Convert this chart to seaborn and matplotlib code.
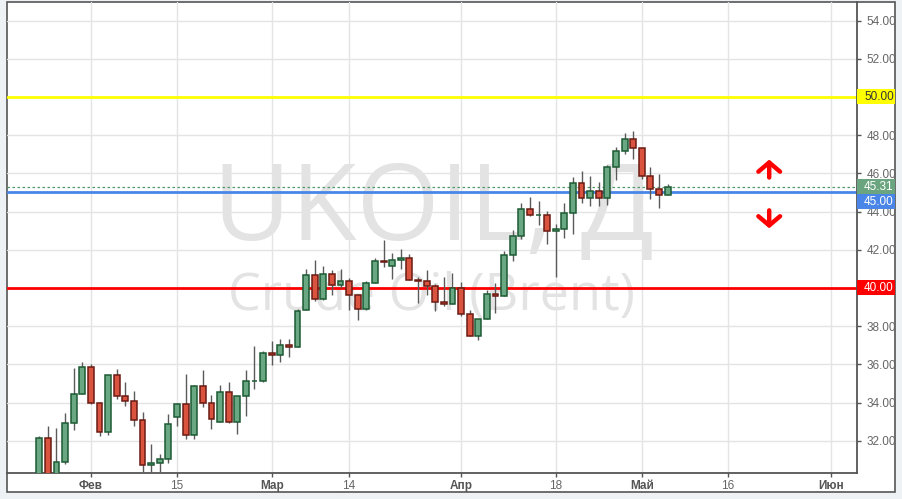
import numpy as np
import pandas as pd
import matplotlib
matplotlib.use("Agg")
import matplotlib.pyplot as plt
import matplotlib.transforms as mtransforms
from matplotlib.patches import Rectangle
import seaborn as sns

# ---------------- data ----------------
open_ = [29.90, 32.13, 30.10, 30.87, 32.92, 34.43, 35.85, 33.96, 32.45, 35.43,
         34.33, 34.07, 33.07, 30.72, 30.82, 31.03, 33.26, 33.91, 32.29, 34.85,
         33.96, 32.97, 34.54, 32.97, 34.33, 35.12, 35.12, 36.58, 36.48, 37.00,
         36.90, 38.83, 40.66, 39.41, 40.72, 40.14, 40.35, 39.62, 38.88, 40.25,
         41.40, 41.14, 41.45, 41.55, 40.40, 40.35, 40.09, 39.25, 39.15, 40.02,
         38.62, 37.47, 38.36, 39.67, 39.57, 41.71, 42.71, 44.12, 43.81, 43.81,
         42.97, 43.07, 43.91, 45.48, 44.70, 45.06, 44.70, 46.32, 47.16, 47.79,
         47.31, 45.85, 45.17, 44.85]
high = [32.25, 32.78, 32.67, 33.44, 35.80, 36.13, 36.00, 34.05, 35.43, 35.74,
        35.06, 34.61, 33.49, 31.82, 31.31, 33.39, 33.98, 35.50, 34.92, 35.71,
        34.38, 34.92, 35.08, 34.33, 35.71, 36.95, 36.69, 37.21, 37.31, 37.31,
        38.88, 40.98, 41.45, 41.14, 40.93, 40.98, 40.51, 39.67, 40.35, 41.55,
        42.50, 41.82, 42.03, 41.76, 40.56, 40.93, 40.19, 40.56, 40.77, 40.33,
        38.83, 38.36, 39.88, 40.25, 41.92, 43.02, 44.43, 44.75, 44.54, 44.02,
        43.34, 44.43, 45.80, 46.11, 45.85, 45.53, 46.42, 47.37, 48.10, 48.20,
        47.31, 46.32, 45.95, 45.43]
low = [29.60, 29.80, 29.90, 30.80, 32.55, 34.43, 33.91, 32.24, 32.29, 34.17,
       33.81, 32.76, 30.38, 30.38, 30.38, 30.85, 32.79, 32.08, 32.08, 33.79,
       32.63, 32.97, 32.92, 32.34, 33.28, 34.70, 35.06, 35.95, 36.11, 36.37,
       36.90, 38.83, 39.30, 39.36, 39.62, 39.98, 38.83, 38.31, 38.83, 40.25,
       41.08, 40.46, 40.98, 40.40, 39.20, 39.62, 38.78, 39.04, 39.15, 38.52,
       37.47, 37.26, 38.36, 38.68, 39.57, 41.40, 42.55, 43.75, 43.28, 42.29,
       40.56, 42.60, 42.81, 44.43, 44.28, 44.28, 44.33, 45.64, 47.00, 46.74,
       45.69, 44.64, 44.17, 44.85]
close = [32.13, 30.20, 30.87, 32.92, 34.43, 35.85, 33.96, 32.45, 35.43, 34.33,
         34.07, 33.07, 30.72, 30.82, 31.03, 32.86, 33.93, 32.29, 34.85, 33.96,
         33.12, 34.54, 32.97, 34.33, 35.12, 35.12, 36.58, 36.48, 37.00, 36.90,
         38.78, 40.66, 39.41, 40.72, 40.14, 40.35, 39.62, 38.88, 40.25, 41.40,
         41.35, 41.45, 41.55, 40.40, 40.35, 40.09, 39.25, 39.15, 40.02, 38.62,
         37.47, 38.36, 39.67, 39.57, 41.71, 42.71, 44.12, 43.81, 43.81, 42.97,
         43.07, 43.91, 45.48, 44.70, 45.06, 44.70, 46.32, 47.16, 47.79, 47.31,
         45.85, 45.17, 44.85, 45.31]

start_date = "2016-01-22"
end_date = "2016-06-10"
holidays = ["2016-03-25"]
tick_dates = ["2016-02-01", "2016-02-15", "2016-03-01", "2016-03-14", "2016-04-01",
              "2016-04-18", "2016-05-02", "2016-05-16", "2016-06-01"]
tick_labels = ["Фев", "15", "Мар", "14", "Апр", "18", "Май", "16", "Июн"]
month_ticks = ["Фев", "Мар", "Апр", "Май", "Июн"]
price_ticks = [32, 34, 36, 38, 40, 42, 44, 46, 48, 50, 52, 54]

levels = [50.0, 45.0, 40.0]
level_colors = ["#ffff00", "#4a86e8", "#ff0000"]
last_price = close[-1]

symbol = "UKOIL, Д"
subtitle = "Crude Oil (Brent)"

# ---------------- style ----------------
sns.set_theme(style="white")
plt.rcParams["font.family"] = ["Liberation Sans", "DejaVu Sans"]

W, H = 902, 499
fig = plt.figure(figsize=(W / 100, H / 100), dpi=100, facecolor="#eef2f5")

# outer white frame
frame = Rectangle((7 / W, 1 - 492 / H), (895 - 7) / W, (492 - 2) / H,
                  transform=fig.transFigure, facecolor="white",
                  edgecolor="#555555", linewidth=1.2, zorder=-5)
fig.patches.append(frame)

ax = fig.add_axes([7 / W, 1 - 473 / H, 850 / W, 471 / H])
ax.set_zorder(1)
ax.set_facecolor("none")

# trading-day calendar
days = pd.bdate_range(start_date, end_date)
days = days[~days.isin(pd.to_datetime(holidays))]
pos = {d: i for i, d in enumerate(days)}
x = np.arange(len(close))
tick_pos = [pos[pd.Timestamp(t)] for t in tick_dates]

df = pd.DataFrame({"x": x, "open": open_, "high": high, "low": low, "close": close})
df["up"] = df["close"] >= df["open"]

# watermark
ax.text(0.5024, 0.4947, symbol, transform=ax.transAxes, ha="center", va="baseline",
        fontsize=77, color="#e3e3e3", family="Open Sans", zorder=0.5)
ax.text(0.4997, 0.346, subtitle, transform=ax.transAxes, ha="center", va="baseline",
        fontsize=37.5, color="#e3e3e3", family="Open Sans", zorder=0.5)

# grid
ax.set_xticks(tick_pos)
ax.set_yticks(price_ticks)
ax.grid(True, color="#e4e4e4", linewidth=1)
ax.set_axisbelow(True)

# horizontal levels
for lv, c in zip(levels, level_colors):
    ax.axhline(lv, color=c, linewidth=2, zorder=2)
ax.axhline(last_price, color="#4f9a6b", linewidth=0.9, linestyle=(0, (2, 2)), zorder=2)

# candles
green_fill, green_edge = "#6aa884", "#1d5a33"
red_fill, red_edge = "#d9533f", "#6b1a12"
ax.vlines(df["x"], df["low"], df["high"], color="#5a5a5a", linewidth=1, zorder=3)
for up, fc, ec in [(True, green_fill, green_edge), (False, red_fill, red_edge)]:
    sub = df[df["up"] == up]
    h = (sub["close"] - sub["open"]).abs().clip(lower=0.02)
    b = sub[["open", "close"]].min(axis=1)
    ax.bar(sub["x"], h, bottom=b, width=0.68, color=fc, edgecolor=ec,
           linewidth=1.1, zorder=4)

ax.set_xlim(-3.75, 95.0)
ax.set_ylim(30.31, 54.97)

# axes cosmetics
for s in ["top", "left"]:
    ax.spines[s].set_visible(False)
for s in ["bottom", "right"]:
    ax.spines[s].set_color("#555555")
    ax.spines[s].set_linewidth(1.3)
ax.yaxis.tick_right()
ax.tick_params(axis="y", which="both", right=True, left=False, length=3, width=1,
               color="#555555", pad=4, labelsize=8.5, labelcolor="#666666")
ax.tick_params(axis="x", bottom=True, length=3, width=1, color="#555555", pad=2,
               labelsize=8.5, labelcolor="#666666")
# labels hidden where a level badge covers them
ax.set_yticklabels(["" if v in levels else f"{v:.2f}" for v in price_ticks])
ax.set_xticklabels(tick_labels)
for lab in ax.get_xticklabels():
    if lab.get_text() in month_ticks:
        lab.set_fontweight("bold")
        lab.set_color("#555555")

# price badges on the right
tr = mtransforms.blended_transform_factory(ax.transAxes, ax.transData)
px_per_unit = 471 / (54.97 - 30.31)
bh = 15 / px_per_unit
bw = 38 / 850
badge_centers = [50.0, last_price - 1.02 * bh, 40.0, last_price]
badge_texts = ["50.00", "45.00", "40.00", f"{last_price:.2f}"]
badge_fc = ["#ffff00", "#4a86e8", "#ff0000", "#6aa57f"]
badge_tc = ["#333333", "white", "white", "white"]
for yc, t, fc, tc in zip(badge_centers, badge_texts, badge_fc, badge_tc):
    ax.add_patch(Rectangle((1.0, yc - bh / 2), bw, bh, transform=tr, facecolor=fc,
                           edgecolor="none", clip_on=False, zorder=10))
    ax.text(1.0 + 7 / 850, yc, t, transform=tr, ha="left", va="center",
            fontsize=8.5, color=tc, zorder=11, clip_on=False)

# direction arrows
arrow_x = 84.8
ax.annotate("", xy=(arrow_x, 46.72), xytext=(arrow_x, 45.78),
            arrowprops=dict(arrowstyle="->,head_length=0.55,head_width=0.65",
                            lw=3.2, color="#ff0000", capstyle="round",
                            joinstyle="round", shrinkA=0, shrinkB=0), zorder=6)
ax.annotate("", xy=(arrow_x, 43.12), xytext=(arrow_x, 44.06),
            arrowprops=dict(arrowstyle="->,head_length=0.55,head_width=0.65",
                            lw=3.2, color="#ff0000", capstyle="round",
                            joinstyle="round", shrinkA=0, shrinkB=0), zorder=6)

fig.savefig("out.png", dpi=100, facecolor=fig.get_facecolor())
